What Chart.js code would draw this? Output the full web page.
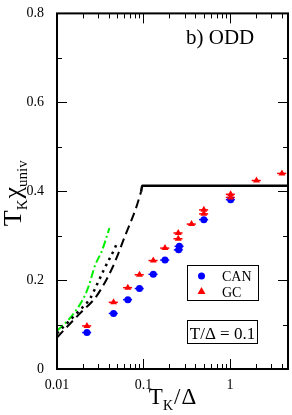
<!DOCTYPE html>
<html>
<head>
<meta charset="utf-8">
<script src="https://cdn.jsdelivr.net/npm/chart.js@4/dist/chart.umd.min.js"></script>
<style>
  html, body { margin: 0; padding: 0; background: #fff; }
  #wrap { width: 292px; height: 415px; }
</style>
</head>
<body>
<div id="wrap"><canvas id="c" width="292" height="415"></canvas></div>
<script>
const X_MIN = 0.01, X_MAX = 4.7;
const Y_MIN = 0, Y_MAX = 0.8;
const X_LABELS = [0.01, 0.1, 1];
const Y_LABELS = [0, 0.2, 0.4, 0.6, 0.8];

// CAN (blue circles)
const canX = [0.0222, 0.0451, 0.066, 0.090, 0.130, 0.1775, 0.255, 0.26, 0.50, 1.02];
const canY = [0.082, 0.125, 0.156, 0.181, 0.213, 0.245, 0.268, 0.276, 0.336, 0.381];
// GC (red triangles)
const gcX = [0.0222, 0.0451, 0.066, 0.090, 0.130, 0.1775, 0.2526, 0.2526, 0.36, 0.50, 0.50, 1.02, 1.02, 2.03, 4.0];
const gcY = [0.097, 0.150, 0.183, 0.212, 0.244, 0.272, 0.293, 0.306, 0.326, 0.349, 0.358, 0.386, 0.393, 0.424, 0.440];
// relative x error bar
const XERR = 0.12;

// curves
const dashX = [0.01, 0.0186, 0.0284, 0.044, 0.0614, 0.081, 0.0939];
const dashY = [0.071, 0.126, 0.163, 0.229, 0.300, 0.359, 0.399];
const dotX = [0.01, 0.017, 0.0242, 0.029, 0.036, 0.046, 0.0496];
const dotY = [0.080, 0.126, 0.159, 0.190, 0.229, 0.269, 0.284];
const greenX = [0.01, 0.0142, 0.0204, 0.0231, 0.0277, 0.0331, 0.0404];
const greenY = [0.086, 0.115, 0.160, 0.185, 0.234, 0.266, 0.317];
const solidX = [0.0939, 0.097, 4.7];
const solidY = [0.399, 0.412, 0.412];

const SERIF = '"Liberation Serif", "DejaVu Serif", serif';

function pts(xs, ys) { return xs.map((x, i) => ({ x: x, y: ys[i] })); }

function drawRich(ctx, parts, x, y, align) {
  let w = 0;
  for (const p of parts) { ctx.font = p[1] + 'px ' + SERIF; w += ctx.measureText(p[0]).width + (p[3] || 0); }
  let cx = align === 'center' ? x - w / 2 : x;
  ctx.textAlign = 'left';
  ctx.textBaseline = 'alphabetic';
  for (const p of parts) {
    ctx.font = p[1] + 'px ' + SERIF;
    ctx.fillText(p[0], cx, y + (p[2] || 0));
    cx += ctx.measureText(p[0]).width + (p[3] || 0);
  }
}

const decor = {
  id: 'decor',
  beforeDatasetsDraw(chart) {
    const ctx = chart.ctx, xs = chart.scales.x, ys = chart.scales.y;
    ctx.save();
    ctx.lineWidth = 1.5;
    [[canX, canY, '#0000ff'], [gcX, gcY, '#ff0000']].forEach(([X, Y, col]) => {
      ctx.strokeStyle = col;
      X.forEach((x, i) => {
        const py = ys.getPixelForValue(Y[i]);
        ctx.beginPath();
        ctx.moveTo(xs.getPixelForValue(x * (1 - XERR)), py);
        ctx.lineTo(xs.getPixelForValue(x * (1 + XERR)), py);
        ctx.stroke();
      });
    });
    ctx.restore();
  },
  afterDraw(chart) {
    const ctx = chart.ctx, a = chart.chartArea, xs = chart.scales.x, ys = chart.scales.y;
    ctx.save();
    ctx.strokeStyle = '#000';
    // ticks inward
    ctx.lineWidth = 1;
    for (let d = 0.01; d < 10; d *= 10) {
      for (let k = 1; k <= 9; k++) {
        const v = k * d;
        if (v < X_MIN * 0.999 || v > X_MAX) continue;
        const px = Math.round(xs.getPixelForValue(v)) + 0.5;
        const len = k === 1 ? 10 : 5;
        ctx.beginPath();
        ctx.moveTo(px, a.bottom); ctx.lineTo(px, a.bottom - len);
        ctx.moveTo(px, a.top); ctx.lineTo(px, a.top + len);
        ctx.stroke();
      }
    }
    for (let i = 0; i <= 8; i++) {
      const v = i / 10;
      const py = Math.round(ys.getPixelForValue(v)) + 0.5;
      const len = i % 2 === 0 ? 10 : 5;
      ctx.beginPath();
      ctx.moveTo(a.left, py); ctx.lineTo(a.left + len, py);
      ctx.moveTo(a.right, py); ctx.lineTo(a.right - len, py);
      ctx.stroke();
    }
    // frame
    ctx.lineWidth = 2;
    ctx.strokeRect(a.left, a.top, a.right - a.left, a.bottom - a.top);

    ctx.fillStyle = '#000';
    // panel label
    drawRich(ctx, [['b) ODD', 21]], 186, 44, 'left');

    // x title
    drawRich(ctx, [['T', 23], ['K', 14, 6, 1], ['/', 23, 0, 1], ['\u0394', 23]], (a.left + a.right) / 2, 404, 'center');

    // y title
    ctx.save();
    ctx.translate(21, (a.top + a.bottom) / 2 + 2);
    ctx.rotate(-Math.PI / 2);
    drawRich(ctx, [['T', 26], ['K', 15, 6, 1], ['\u03c7', 26], ['univ', 15, 6]], 0, 0, 'center');
    ctx.restore();

    // legend box
    ctx.lineWidth = 1;
    ctx.strokeRect(187.5, 265.5, 71, 35);
    ctx.fillStyle = '#0000ff';
    ctx.beginPath(); ctx.arc(201.5, 276, 3.5, 0, Math.PI * 2); ctx.fill();
    ctx.fillStyle = '#ff0000';
    ctx.beginPath(); ctx.moveTo(201.5, 287); ctx.lineTo(205.5, 294); ctx.lineTo(197.5, 294); ctx.closePath(); ctx.fill();
    ctx.fillStyle = '#000';
    drawRich(ctx, [['CAN', 14]], 222, 281, 'left');
    drawRich(ctx, [['GC', 14]], 222, 297, 'left');

    // T/Delta box
    ctx.strokeRect(187.5, 320.5, 70, 23);
    drawRich(ctx, [['T/\u0394 = 0.1', 17]], 222.5, 339, 'center');
    ctx.restore();
  }
};

const lineDs = (xs, ys, color, dash, w) => ({
  data: pts(xs, ys), showLine: true, borderColor: color, borderWidth: w,
  borderDash: dash, pointRadius: 0, fill: false, cubicInterpolationMode: 'monotone'
});

new Chart(document.getElementById('c'), {
  type: 'scatter',
  data: {
    datasets: [
      lineDs(solidX, solidY, '#000', [], 2.5),
      lineDs(dashX, dashY, '#000', [9, 5], 2),
      lineDs(dotX, dotY, '#000', [2.5, 4.5], 2.5),
      lineDs(greenX, greenY, '#00ee00', [8, 3, 2, 3], 2),
      { label: 'GC', data: pts(gcX, gcY), pointStyle: 'triangle', pointRadius: 4,
        backgroundColor: '#ff0000', borderColor: '#ff0000', borderWidth: 0 },
      { label: 'CAN', data: pts(canX, canY), pointStyle: 'circle', pointRadius: 3.5,
        backgroundColor: '#0000ff', borderColor: '#0000ff', borderWidth: 0 }
    ]
  },
  options: {
    responsive: false,
    devicePixelRatio: 1,
    animation: false,
    layout: { padding: { top: 6, right: 4, left: 0, bottom: 0 } },
    plugins: { legend: { display: false }, tooltip: { enabled: false } },
    scales: {
      x: {
        type: 'logarithmic', min: X_MIN, max: X_MAX,
        grid: { display: false }, border: { display: false },
        afterFit: s => { s.height = 46; },
        ticks: {
          autoSkip: false, maxRotation: 0, padding: 0,
          color: '#000', font: { family: SERIF, size: 14 },
          callback: v => X_LABELS.some(l => Math.abs(l - v) < l * 1e-6) ? String(v) : ''
        }
      },
      y: {
        min: Y_MIN, max: Y_MAX,
        grid: { display: false }, border: { display: false },
        afterFit: s => { s.width = 57; },
        ticks: {
          stepSize: 0.1, autoSkip: false, padding: 5,
          color: '#000', font: { family: SERIF, size: 14 },
          callback: v => {
            const hit = Y_LABELS.find(l => Math.abs(l - v) < 1e-6);
            return hit === undefined ? '' : (hit === 0 ? '0' : hit.toFixed(1));
          }
        }
      }
    }
  },
  plugins: [decor]
});
</script>
</body>
</html>
